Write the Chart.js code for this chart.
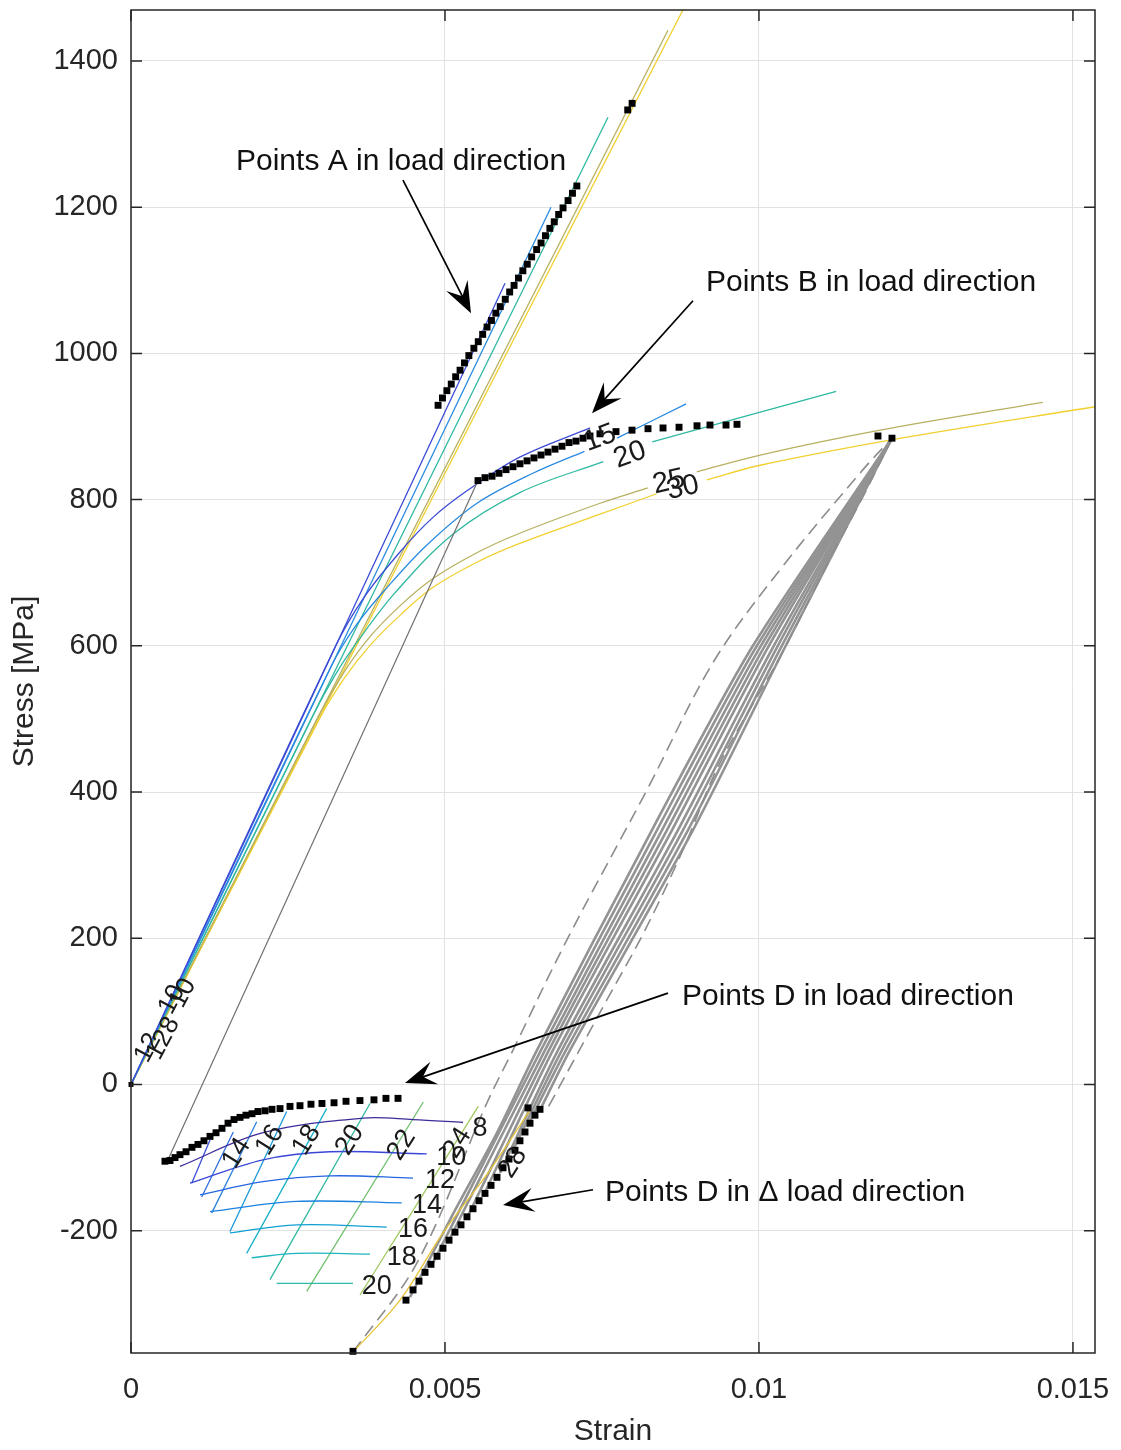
<!DOCTYPE html>
<html>
<head>
<meta charset="utf-8">
<title>Stress - strain</title>
<script src="https://cdn.jsdelivr.net/npm/chart.js@4.4.1/dist/chart.umd.min.js"></script>
<style>
  html, body { margin: 0; padding: 0; background: #fff; }
  #wrap { position: relative; width: 1121px; height: 1450px; }
</style>
</head>
<body>
<div id="wrap"><canvas id="chart"></canvas></div>
<script>
// axis ticks
const strainTicks = [0, 0.005, 0.01, 0.015]
const stressTicks = [-200, 0, 200, 400, 600, 800, 1000, 1200, 1400]

// elastic branches from the origin
const elasticDarkBlue = [[0, 0], [0.005956, 1096]]
const elasticBlue = [[0, 0], [0.006688, 1200]]
const elasticTeal = [[0, 0], [0.007596, 1323]]
const elasticOlive = [[0, 0], [0.008551, 1442]]
const elasticYellow = [[0, 0], [0.008910, 1490]]

// plastic branches (null = gap for the inline label)
const plasticDarkBlue = [[0, 0], [0.00326, 600], [0.00370, 665], [0.00428, 728], [0.00480, 775], [0.00535, 812], [0.00619, 858], [0.00731, 898]]
const plasticBlue = [[0, 0], [0.00320, 574], [0.00360, 630], [0.00408, 680], [0.00470, 737], [0.00551, 795], [0.00640, 836], [0.00722, 866], [0.00745, null], [0.00774, 884], [0.00884, 931]]
const plasticTeal = [[0, 0], [0.00290, 505], [0.00325, 560], [0.00360, 605], [0.00420, 672], [0.00513, 753], [0.00620, 810], [0.00752, 852], [0.0079, null], [0.00830, 879], [0.00986, 916], [0.01123, 948]]
const plasticOlive = [[0, 0], [0.00300, 506], [0.00340, 565], [0.00380, 612], [0.00430, 656], [0.00481, 692], [0.00550, 727], [0.00619, 754], [0.00747, 795], [0.00823, 816], [0.0086, null], [0.00901, 838], [0.01002, 861], [0.01193, 895], [0.01452, 933]]
const plasticYellow = [[0, 0], [0.00300, 500], [0.00340, 556], [0.00380, 600], [0.00430, 643], [0.00481, 680], [0.00550, 714], [0.00619, 740], [0.00747, 780], [0.00837, 808], [0.0088, null], [0.00917, 827], [0.01002, 847], [0.01240, 886], [0.01535, 927]]

// measured points
const pointsA = [[0.00489, 929], [0.00496, 939], [0.00503, 949], [0.00510, 958], [0.00517, 968], [0.00524, 977], [0.00531, 987], [0.00538, 997], [0.00546, 1007], [0.00553, 1016], [0.00560, 1026], [0.00567, 1036], [0.00574, 1045], [0.00581, 1055], [0.00588, 1064], [0.00596, 1074], [0.00603, 1084], [0.00610, 1093], [0.00617, 1103], [0.00624, 1113], [0.00631, 1122], [0.00638, 1132], [0.00646, 1142], [0.00653, 1151], [0.00660, 1161], [0.00667, 1171], [0.00674, 1180], [0.00681, 1190], [0.00688, 1199], [0.00696, 1209], [0.00703, 1219], [0.00710, 1229], [0.00791, 1333], [0.00798, 1342]]
const pointsB = [[0.005526, 826], [0.005637, 830], [0.005749, 832], [0.005860, 836], [0.005972, 841], [0.006083, 845], [0.006194, 849], [0.006306, 853], [0.006417, 857], [0.006529, 861], [0.006640, 865], [0.006752, 869], [0.006863, 873], [0.006975, 878], [0.007086, 880], [0.007198, 884], [0.007309, 887], [0.007468, 890], [0.007723, 893], [0.007978, 895], [0.008233, 897], [0.008472, 898], [0.008727, 899], [0.009013, 901], [0.009220, 902], [0.009475, 902], [0.009650, 903]]
const peakPoints = [[0.011895, 887], [0.012118, 884]]
const pointsD = [[0.000541, -105], [0.000621, -104], [0.000701, -100], [0.000780, -96], [0.000876, -92], [0.000971, -86], [0.001067, -82], [0.001162, -77], [0.001258, -71], [0.001354, -66], [0.001449, -60], [0.001545, -53], [0.001640, -48], [0.001736, -45], [0.001831, -42], [0.001927, -40], [0.002022, -37], [0.002134, -36], [0.002245, -34], [0.002373, -33], [0.002532, -30], [0.002691, -29], [0.002866, -27], [0.003041, -26], [0.003233, -25], [0.003424, -23], [0.003646, -22], [0.003869, -21], [0.004060, -19], [0.004252, -19]]
const pointsDDelta = [[0.003535, -365], [0.004379, -295], [0.004491, -281], [0.004586, -269], [0.004682, -257], [0.004777, -246], [0.004873, -235], [0.004968, -224], [0.005064, -213], [0.005159, -202], [0.005255, -192], [0.005350, -181], [0.005446, -170], [0.005542, -159], [0.005637, -149], [0.005733, -138], [0.005828, -127], [0.005924, -114], [0.006019, -102], [0.006115, -90], [0.006194, -77], [0.006274, -65], [0.006354, -53], [0.006433, -42], [0.006513, -34], [0.006322, -32]]
const originPoint = [[0, 0]]

// measured load path and cycles
const loadingPath = [[0.000589, -103], [0.005526, 826]]
const deltaPath = [[0.003535, -366], [0.004284, -295], [0.004968, -203], [0.005717, -117], [0.006354, -35]]
const cycleBranches = [
  [[0.004443, -291], [0.005080, -185], [0.005828, -66], [0.006465, 47], [0.008296, 348], [0.009889, 598], [0.012118, 884]],
  [[0.004809, -244], [0.006529, 47], [0.008376, 348], [0.009953, 598], [0.012118, 884]],
  [[0.005080, -210], [0.006593, 47], [0.008456, 348], [0.010016, 598], [0.012118, 884]],
  [[0.005335, -185], [0.006656, 47], [0.008535, 348], [0.010080, 598], [0.012118, 884]],
  [[0.005605, -153], [0.006720, 47], [0.008615, 348], [0.010144, 598], [0.012118, 884]],
  [[0.005876, -121], [0.006800, 47], [0.008710, 348], [0.010223, 598], [0.012118, 884]],
  [[0.006083, -90], [0.006863, 47], [0.008790, 348], [0.010287, 598], [0.012118, 884]],
  [[0.006306, -58], [0.006927, 47], [0.008870, 348], [0.010351, 598], [0.012118, 884]],
  [[0.006513, -35], [0.006991, 47], [0.008949, 348], [0.010414, 598], [0.012118, 884]]
]
const cycleLeftDashed = [[0.003535, -366], [0.004554, -244], [0.005669, -25], [0.006083, 47], [0.006943, 198], [0.008217, 403], [0.009268, 577], [0.010335, 704], [0.011656, 841], [0.012118, 884]]
const cycleRightDashed = [[0.006650, -30], [0.007580, 116], [0.008185, 211], [0.008790, 321], [0.009379, 440], [0.010335, 585], [0.011178, 727], [0.011656, 804], [0.012118, 884]]

// contour net below zero (level curves and cross curves)
const netLevels = [
  [[0.000780, -112], [0.002102, -66], [0.003694, -46], [0.004491, -48], [0.005287, -52]],
  [[0.000940, -135], [0.002102, -103], [0.003169, -92], [0.004709, -95]],
  [[0.001099, -151], [0.002102, -133], [0.003169, -125], [0.004491, -128]],
  [[0.001258, -174], [0.002639, -160], [0.004311, -162]],
  [[0.001576, -203], [0.002639, -192], [0.004072, -195]],
  [[0.001922, -237], [0.002639, -231], [0.003806, -232]],
  [[0.002320, -272], [0.003535, -272]]
]
const netCross = [
  [[0.000967, -135], [0.001258, -76]],
  [[0.001126, -154], [0.001629, -65]],
  [[0.001285, -176], [0.002002, -51]],
  [[0.001576, -201], [0.002479, -37]],
  [[0.001842, -231], [0.003116, -33]],
  [[0.002213, -267], [0.003806, -26]],
  [[0.002798, -283], [0.004655, -24]],
  [[0.003647, -288], [0.005530, -30]]
]

// inline labels [text, strain, stress]
const plasticLabelsSteep = [['15', 0.007468, 884], ['20', 0.007946, 861]]
const plasticLabelsFlat = [['25', 0.008567, 824], ['30', 0.008790, 816]]
const originLabels = [['12', 0.000271, 50], ['10', 0.000653, 116], ['12', 0.000462, 54], ['8', 0.000621, 81], ['10', 0.000828, 125]]
const netTopLabels = [['14', 0.001684, -94], ['16', 0.002213, -76], ['18', 0.002798, -76], ['20', 0.003487, -76], ['22', 0.004311, -83], ['24', 0.005200, -80], ['28', 0.006083, -107]]
const netSideLabels = [['8', 0.005557, -60], ['10', 0.005100, -100], ['12', 0.004920, -131], ['14', 0.004714, -165], ['16', 0.004491, -199], ['18', 0.004311, -237], ['20', 0.003913, -277]]

// annotations
const noteTexts = ['Points A in load direction', 'Points B in load direction', 'Points D in load direction', 'Points D in \u0394 load direction']
const noteAnchors = [[0.001672, 1262], [0.009156, 1096], [0.008774, 120], [0.007548, -148]]
const arrowTails = [[0.004331, 1237], [0.008949, 1072], [0.008551, 125], [0.007357, -144]]
const arrowTips = [[0.005414, 1055], [0.007341, 918], [0.004363, 2], [0.005924, -165]]

const FONT = '"Liberation Sans", Arial, Helvetica, sans-serif'
const levelColors = ['#3d2b9a', '#3a47d6', '#2466e0', '#1a82de', '#129fd4', '#1eb4c0', '#2fbaa8']
const crossColors = ['#3a4fd8', '#2f6ee0', '#2a80e0', '#1a98d8', '#18b0c8', '#30b8a0', '#70c070', '#a0c860']

const xy = arr => arr.map(([x, y]) => ({ x, y }))

const line = (data, color, extra = {}) => ({
  data: xy(data),
  showLine: true,
  borderColor: color,
  borderWidth: 1.3,
  pointRadius: 0,
  tension: 0.35,
  spanGaps: false,
  clip: 0,
  ...extra
})

const straight = (data, color, extra = {}) => line(data, color, { tension: 0, ...extra })

const markers = (data, radius = 4.9) => ({
  data: xy(data),
  showLine: false,
  pointStyle: 'rect',
  pointRadius: radius,
  backgroundColor: '#000',
  borderColor: '#000',
  borderWidth: 0,
  clip: false
})

const datasets = [
  markers(pointsA),
  markers(pointsB),
  markers(peakPoints),
  markers(pointsD),
  markers(pointsDDelta),
  markers(originPoint, 3.5),
  line(deltaPath, '#e6c43a', { borderWidth: 1.3 }),
  line(cycleLeftDashed, '#8c8c8c', { borderDash: [13, 7], borderWidth: 1.6 }),
  line(cycleRightDashed, '#8c8c8c', { borderDash: [13, 7], borderWidth: 1.6 }),
  ...cycleBranches.map(b => line(b, '#939393', { borderWidth: 2.6, tension: 0.25 })),
  straight(loadingPath, '#707070', { borderWidth: 1.2 }),
  ...netLevels.map((c, i) => line(c, levelColors[i])),
  ...netCross.map((c, i) => straight(c, crossColors[i])),
  line(plasticDarkBlue, '#3b4bd6'),
  line(plasticBlue, '#2a8ae0'),
  line(plasticTeal, '#2fb8a0'),
  line(plasticOlive, '#b8b060'),
  line(plasticYellow, '#f2d030'),
  straight(elasticDarkBlue, '#3b4bd6'),
  straight(elasticBlue, '#2a8ae0'),
  straight(elasticTeal, '#2fb8a0'),
  straight(elasticOlive, '#b8b060'),
  straight(elasticYellow, '#f2d030')
]

const toPx = (chart, x, y) => [chart.scales.x.getPixelForValue(x), chart.scales.y.getPixelForValue(y)]

const drawLabels = (ctx, chart, labels, rot, size) => {
  ctx.save()
  ctx.font = `${size}px ${FONT}`
  ctx.fillStyle = '#1a1a1a'
  ctx.textAlign = 'center'
  ctx.textBaseline = 'middle'
  labels.forEach(([text, x, y]) => {
    const [px, py] = toPx(chart, x, y)
    ctx.save()
    ctx.translate(px, py)
    ctx.rotate(rot * Math.PI / 180)
    ctx.fillText(text, 0, 0)
    ctx.restore()
  })
  ctx.restore()
}

const drawArrow = (ctx, x0, y0, x1, y1) => {
  const a = Math.atan2(y1 - y0, x1 - x0)
  ctx.save()
  ctx.strokeStyle = ctx.fillStyle = '#000'
  ctx.lineWidth = 1.7
  ctx.beginPath()
  ctx.moveTo(x0, y0)
  ctx.lineTo(x1 - 16 * Math.cos(a), y1 - 16 * Math.sin(a))
  ctx.stroke()
  ctx.translate(x1, y1)
  ctx.rotate(a)
  ctx.beginPath()
  ctx.moveTo(0, 0)
  ctx.lineTo(-31, -12)
  ctx.lineTo(-19, 0)
  ctx.lineTo(-31, 12)
  ctx.closePath()
  ctx.fill()
  ctx.restore()
}

const annotations = {
  id: 'annotations',
  afterDatasetsDraw: (chart) => {
    const ctx = chart.ctx
    drawLabels(ctx, chart, plasticLabelsSteep, -20, 29)
    drawLabels(ctx, chart, plasticLabelsFlat, -13, 29)
    drawLabels(ctx, chart, originLabels, -62, 26)
    drawLabels(ctx, chart, netTopLabels, -58, 27)
    drawLabels(ctx, chart, netSideLabels, 0, 27)

    arrowTails.forEach((t, i) => {
      const [x0, y0] = toPx(chart, t[0], t[1])
      const [x1, y1] = toPx(chart, arrowTips[i][0], arrowTips[i][1])
      drawArrow(ctx, x0, y0, x1, y1)
    })

    ctx.save()
    ctx.font = `30px ${FONT}`
    ctx.fillStyle = '#111'
    ctx.textAlign = 'left'
    ctx.textBaseline = 'middle'
    noteTexts.forEach((text, i) => {
      const [px, py] = toPx(chart, noteAnchors[i][0], noteAnchors[i][1])
      ctx.fillText(text, px, py)
    })
    ctx.restore()
  },
  afterDraw: (chart) => {
    const { ctx, chartArea: { left, right, top, bottom } } = chart
    ctx.save()
    ctx.strokeStyle = '#262626'
    ctx.lineWidth = 1.5
    ctx.beginPath()
    stressTicks.forEach(v => {
      const py = chart.scales.y.getPixelForValue(v)
      ctx.moveTo(left, py); ctx.lineTo(left + 11, py)
      ctx.moveTo(right, py); ctx.lineTo(right - 11, py)
    })
    strainTicks.forEach(v => {
      const px = chart.scales.x.getPixelForValue(v)
      ctx.moveTo(px, bottom); ctx.lineTo(px, bottom - 11)
      ctx.moveTo(px, top); ctx.lineTo(px, top + 11)
    })
    ctx.stroke()
    ctx.strokeRect(left, top, right - left, bottom - top)
    ctx.restore()
  }
}

const noPadding = (scale) => {
  scale.paddingTop = 0
  scale.paddingBottom = 0
  scale.paddingLeft = 0
  scale.paddingRight = 0
}

const tickFont = { family: FONT, size: 29 }
const titleFont = { family: FONT, size: 30 }

new Chart(document.getElementById('chart'), {
  type: 'scatter',
  data: { datasets },
  options: {
    responsive: true,
    maintainAspectRatio: false,
    animation: false,
    events: [],
    layout: { padding: { left: 0, right: 26, top: 10, bottom: 0 } },
    scales: {
      x: {
        type: 'linear',
        min: 0,
        max: 0.015351,
        afterBuildTicks: (scale) => { scale.ticks = strainTicks.map(v => ({ value: v })) },
        afterFit: (scale) => { scale.height = 97; noPadding(scale) },
        grid: { color: '#e2e2e2', lineWidth: 1, drawTicks: false },
        border: { display: false },
        ticks: { color: '#262626', font: tickFont, padding: 20, maxRotation: 0, callback: v => String(v) },
        title: { display: true, text: 'Strain', color: '#262626', font: titleFont, padding: { top: 0, bottom: 0 } }
      },
      y: {
        type: 'linear',
        min: -367.3,
        max: 1469.7,
        afterBuildTicks: (scale) => { scale.ticks = stressTicks.map(v => ({ value: v })) },
        afterFit: (scale) => { scale.width = 131; noPadding(scale) },
        grid: { color: '#e2e2e2', lineWidth: 1, drawTicks: false },
        border: { display: false },
        ticks: { color: '#262626', font: tickFont, padding: 13, callback: v => String(v) },
        title: { display: true, text: 'Stress [MPa]', color: '#262626', font: titleFont, padding: { top: 7, bottom: 0 } }
      }
    },
    plugins: {
      legend: { display: false },
      tooltip: { enabled: false }
    }
  },
  plugins: [annotations]
})
</script>
</body>
</html>
